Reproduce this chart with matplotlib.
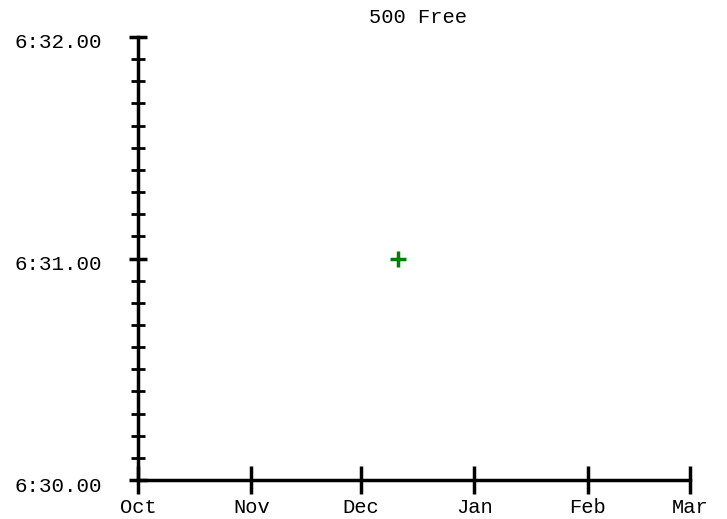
import matplotlib
matplotlib.use("Agg")
import matplotlib.pyplot as plt
import matplotlib.dates as mdates
import matplotlib.transforms as mtransforms
from matplotlib.ticker import FuncFormatter, MultipleLocator
import datetime as dt

title = "500 Free"
swim_dates = [dt.date(2010, 12, 11)]
swim_times = [391.0]  # seconds (6:31.00)
x_range = (dt.date(2010, 10, 1), dt.date(2011, 3, 1))
y_range = (390.0, 392.0)

plt.rcParams['font.family'] = ['Liberation Mono', 'DejaVu Sans Mono']

fig = plt.figure(figsize=(7.27, 5.19), dpi=100)
ax = fig.add_axes([138/727, 1-480/519, (690-138)/727, (480-37)/519])

ax.plot(swim_dates, swim_times, linestyle='none', marker='+', color='#008000',
        markersize=11, markeredgewidth=2.5, clip_on=False)

ax.set_xlim(*x_range)
ax.set_ylim(*y_range)

for s in ['top', 'right']:
    ax.spines[s].set_visible(False)
for s in ['left', 'bottom']:
    ax.spines[s].set_linewidth(2.5)

ax.xaxis.set_major_locator(mdates.MonthLocator())
ax.xaxis.set_major_formatter(mdates.DateFormatter('%b'))

def fmt(v, pos):
    m = int(v // 60)
    s = v - m * 60
    return f"{m}:{s:05.2f}"

ax.yaxis.set_major_locator(MultipleLocator(1.0))
ax.yaxis.set_minor_locator(MultipleLocator(0.1))
ax.yaxis.set_major_formatter(FuncFormatter(fmt))

ax.tick_params(axis='x', which='major', direction='inout', length=20, width=2.5,
               labelsize=14.7, pad=3)
ax.tick_params(axis='y', which='major', direction='inout', length=13, width=2.5,
               labelsize=15, pad=19.5)
ax.tick_params(axis='y', which='minor', direction='inout', length=10, width=2.0)

offset = mtransforms.ScaledTranslation(0, -4/100, fig.dpi_scale_trans)
for lbl in ax.get_yticklabels():
    lbl.set_transform(lbl.get_transform() + offset)

ax.set_title(title, fontsize=14.7, pad=10, x=0.507)

fig.savefig("out.png", dpi=100)
